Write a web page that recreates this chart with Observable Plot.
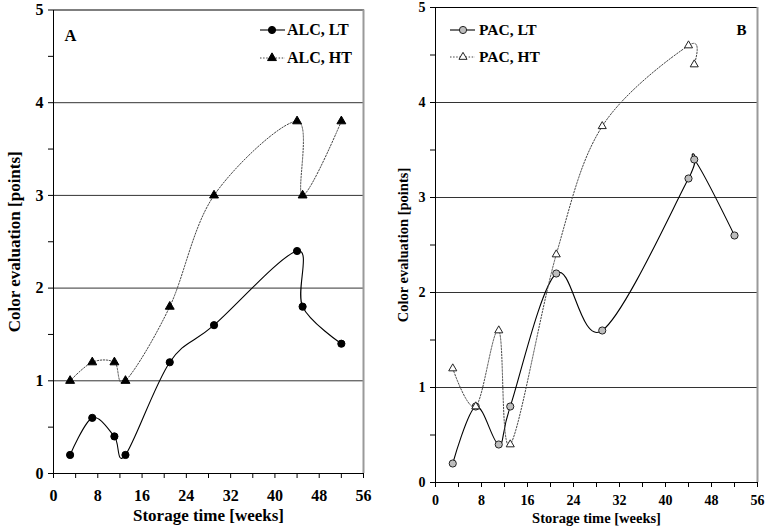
<!DOCTYPE html>
<html><head><meta charset="utf-8">
<script src="https://cdn.jsdelivr.net/npm/d3@7"></script>
<script src="https://cdn.jsdelivr.net/npm/@observablehq/plot@0.6"></script>
<style>
body{margin:0;background:#fff;}
#chart{position:relative;width:766px;height:532px;overflow:hidden;background:#fff;}
.panel{position:absolute;top:0;width:383px;height:532px;}
.panel svg{position:absolute;top:0;left:0;}
</style></head><body><div id="chart"></div>
<script>
// ---- data ----
const weeks = [3, 7, 11, 13, 21, 29, 44, 45, 52];
const weeksPacHT = [3, 7, 11, 13, 21, 29, 44, 45];
const alcLT = [0.2, 0.6, 0.4, 0.2, 1.2, 1.6, 2.4, 1.8, 1.4];
const alcHT = [1.0, 1.2, 1.2, 1.0, 1.8, 3.0, 3.8, 3.0, 3.8];
const pacLT = [0.2, 0.8, 0.4, 0.8, 2.2, 1.6, 3.2, 3.4, 2.6];
const pacHT = [1.2, 0.8, 1.6, 0.4, 2.4, 3.75, 4.6, 4.4];
const seriesNamesA = ["ALC, LT", "ALC, HT"];
const seriesNamesB = ["PAC, LT", "PAC, HT"];
const xTicks = [0, 4, 8, 12, 16, 20, 24, 28, 32, 36, 40, 44, 48, 52, 56];
const xLabelStep = 8;
const yTicks = [0, 0.5, 1, 1.5, 2, 2.5, 3, 3.5, 4, 4.5, 5];
const gridY = [1, 2, 3, 4];
const xDomain = [0, 56];
const yDomain = [0, 5];
const yTitle = "Color evaluation [points]";
const xTitle = "Storage time [weeks]";
const FONT = '"Liberation Serif", "Times New Roman", serif';

const toRows = (xs, ys) => xs.map((x, i) => ({x, y: ys[i]}));

const styles = {
  LT_A: {symbol: "circle", r: 3.6, fill: "black", stroke: "black", line: "solid"},
  HT_A: {symbol: "triangle", r: 3.3, fill: "black", stroke: "black", line: "dot"},
  LT_B: {symbol: "circle", r: 3.6, fill: "#bdbdbd", stroke: "#222", line: "solid"},
  HT_B: {symbol: "triangle", r: 3.0, fill: "white", stroke: "#222", line: "dot"}
};
const lineStyle = {
  solid: {stroke: "black", strokeWidth: 1.1},
  dot: {stroke: "#444", strokeWidth: 1, strokeDasharray: "1.5,1.6"}
};

function panel(cfg) {
  const marks = [
    Plot.ruleY(gridY, {stroke: "#333", strokeWidth: 1}),
    Plot.frame({stroke: "black", strokeWidth: 1}),
    Plot.ruleX([xDomain[1]], {stroke: "#9a9a9a", strokeWidth: 2})
  ];
  for (const s of cfg.series) {
    const ls = lineStyle[s.style.line];
    marks.push(Plot.line(s.data, {x: "x", y: "y", curve: "cardinal", tension: 0, ...ls}));
  }
  for (const s of cfg.series) {
    marks.push(Plot.dot(s.data, {x: "x", y: "y", symbol: s.style.symbol, r: s.style.r,
      fill: s.style.fill, stroke: s.style.stroke, strokeWidth: 1}));
  }
  marks.push(
    Plot.text([cfg.letter], {text: d => d, frameAnchor: cfg.letterAnchor, textAnchor: cfg.letterTextAnchor,
      dx: cfg.letterDx, dy: cfg.letterDy, fontSize: cfg.letterSize, fontWeight: "bold"}),
    Plot.text([yTitle], {text: d => d, frameAnchor: "left", rotate: -90, textAnchor: "middle",
      dx: cfg.yTitleDx, fontSize: cfg.titleSize, fontWeight: "bold"}),
    Plot.text([xTitle], {text: d => d, frameAnchor: "bottom", textAnchor: "middle",
      dy: cfg.xTitleDy, fontSize: cfg.titleSize, fontWeight: "bold"})
  );
  const svg = Plot.plot({
    width: 383, height: 532,
    marginLeft: cfg.m[0], marginRight: cfg.m[1], marginTop: cfg.m[2], marginBottom: cfg.m[3],
    style: {fontFamily: FONT, fontWeight: "bold", fontSize: cfg.tickSize + "px", background: "white", color: "black", overflow: "visible"},
    x: {domain: xDomain, ticks: xTicks, tickFormat: d => d % xLabelStep === 0 ? String(d) : "",
        tickSize: 5, tickPadding: cfg.xPad, label: null},
    y: {domain: yDomain, ticks: yTicks, tickFormat: d => Number.isInteger(d) ? String(d) : "",
        tickSize: 5, tickPadding: cfg.yPad, label: null},
    marks
  });
  const div = document.createElement("div");
  div.className = "panel";
  div.style.left = cfg.left + "px";
  div.appendChild(svg);

  // legend overlay
  const lg = d3.create("svg").attr("width", 383).attr("height", 80)
    .style("position", "absolute").style("left", "0px").style("top", "0px");
  cfg.series.forEach((s, i) => {
    const y = cfg.legend.rows[i];
    const ls = lineStyle[s.style.line];
    lg.append("line").attr("x1", cfg.legend.x1).attr("x2", cfg.legend.x2)
      .attr("y1", y).attr("y2", y).attr("stroke", ls.stroke).attr("stroke-width", ls.strokeWidth)
      .attr("stroke-dasharray", ls.strokeDasharray || null);
    const sym = s.style.symbol === "circle" ? d3.symbolCircle : d3.symbolTriangle;
    lg.append("path").attr("d", d3.symbol(sym, Math.PI * s.style.r * s.style.r)())
      .attr("transform", `translate(${cfg.legend.mx},${y})`)
      .attr("fill", s.style.fill).attr("stroke", s.style.stroke).attr("stroke-width", 1);
    lg.append("text").attr("x", cfg.legend.tx).attr("y", y).attr("dy", "0.34em")
      .attr("font-family", FONT).attr("font-weight", "bold").attr("font-size", cfg.legend.size)
      .text(s.name);
  });
  div.appendChild(lg.node());
  document.getElementById("chart").appendChild(div);
}

panel({
  left: 0, m: [53, 20, 9.5, 59], tickSize: 16, xPad: 11, yPad: 5,
  titleSize: 17, yTitleDx: -39, xTitleDy: 47,
  letter: "A", letterAnchor: "top-left", letterTextAnchor: "start", letterDx: 11, letterDy: 19.5, letterSize: 16.5,
  series: [
    {name: seriesNamesA[0], data: toRows(weeks, alcLT), style: styles.LT_A},
    {name: seriesNamesA[1], data: toRows(weeks, alcHT), style: styles.HT_A}
  ],
  legend: {x1: 260, x2: 285, mx: 272, tx: 287, rows: [30, 58], size: 16}
});
panel({
  left: 383, m: [52, 9, 7, 50], tickSize: 14, xPad: 8, yPad: 5,
  titleSize: 14.5, yTitleDx: -32, xTitleDy: 40,
  letter: "B", letterAnchor: "top-right", letterTextAnchor: "end", letterDx: -11, letterDy: 17, letterSize: 15,
  series: [
    {name: seriesNamesB[0], data: toRows(weeks, pacLT), style: styles.LT_B},
    {name: seriesNamesB[1], data: toRows(weeksPacHT, pacHT), style: styles.HT_B}
  ],
  legend: {x1: 67, x2: 92, mx: 80, tx: 96, rows: [30, 57], size: 15.5}
});
</script></body></html>
